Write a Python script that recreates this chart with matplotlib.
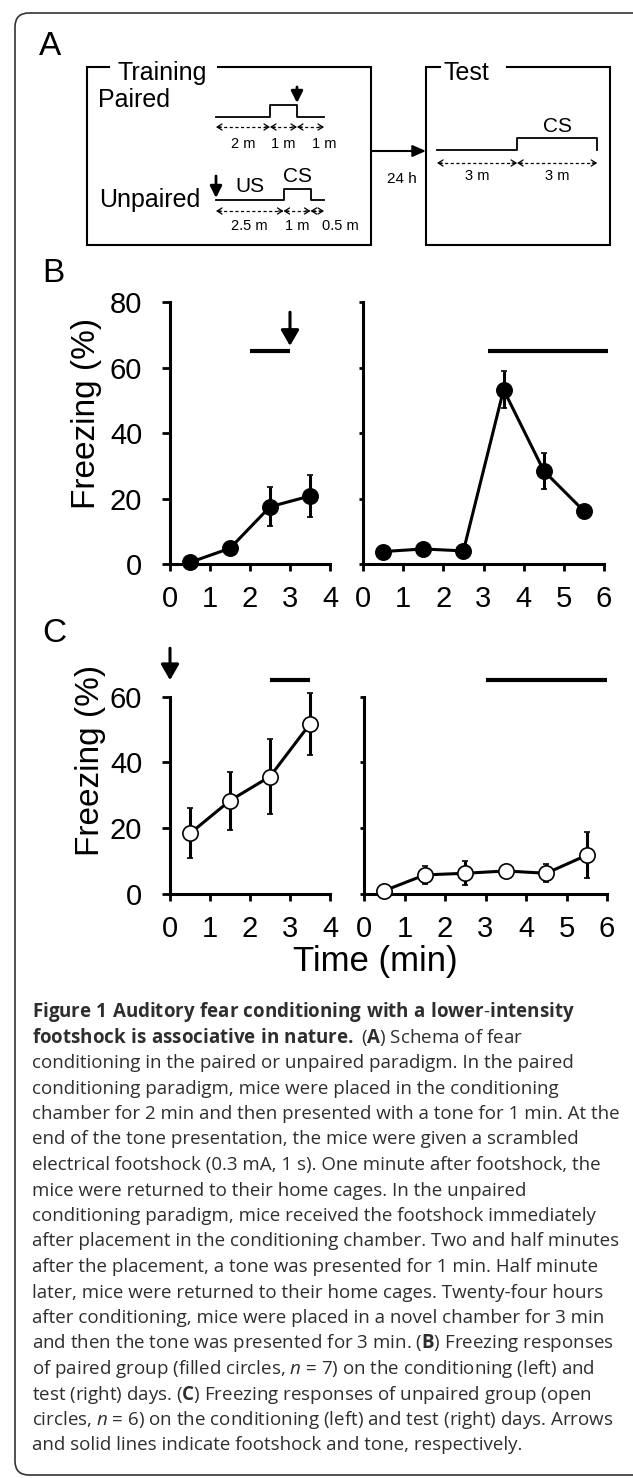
import numpy as np
import matplotlib
matplotlib.use("Agg")
import matplotlib.pyplot as plt
from matplotlib.patches import FancyBboxPatch

ARIAL = ['Liberation Sans', 'DejaVu Sans']
NARROW = ['Liberation Sans Narrow', 'Liberation Sans', 'DejaVu Sans']
CAPFONT = ['Open Sans', 'DejaVu Sans']

plt.rcParams['font.family'] = NARROW
plt.rcParams['mathtext.fontset'] = 'custom'
plt.rcParams['mathtext.rm'] = 'Open Sans'
plt.rcParams['mathtext.bf'] = 'Open Sans:bold'
plt.rcParams['mathtext.it'] = 'Open Sans:italic'

W, H, DPI = 633, 1478, 100

# ---- panel A: schedules (minutes) ----
paired_segments = [2, 1, 1]
paired_labels = ['2 m', '1 m', '1 m']
unpaired_segments = [2.5, 1, 0.5]
unpaired_labels = ['2.5 m', '1 m', '0.5 m']
test_segments = [3, 3]
test_labels = ['3 m', '3 m']

# ---- panel B: paired group ----
b_cond_time = [0.5, 1.5, 2.5, 3.5]
b_cond_freeze = [0.5, 4.8, 17.5, 20.8]
b_cond_err = [0.6, 1.2, 5.9, 6.3]
b_test_time = [0.5, 1.5, 2.5, 3.5, 4.5, 5.5]
b_test_freeze = [3.8, 4.6, 4.0, 53.3, 28.5, 16.2]
b_test_err = [0.8, 0.8, 1.0, 5.6, 5.5, 1.5]
b_cond_tone = [2, 3]
b_test_tone = [3.1, 6.1]
b_cond_shock = 3

# ---- panel C: unpaired group ----
c_cond_time = [0.5, 1.5, 2.5, 3.5]
c_cond_freeze = [18.4, 28.4, 35.7, 51.7]
c_cond_err = [7.6, 8.8, 11.3, 9.5]
c_test_time = [0.5, 1.5, 2.5, 3.5, 4.5, 5.5]
c_test_freeze = [1.0, 5.8, 6.3, 7.0, 6.3, 11.8]
c_test_err = [0.5, 2.8, 3.6, 1.0, 2.7, 6.9]
c_cond_tone = [2.5, 3.5]
c_test_tone = [3, 6]
c_cond_shock = 0

caption_lines = [
    r"$\mathbf{Figure\ 1\ Auditory\ fear\ conditioning\ with\ a\ lower}$-$\mathbf{intensity}$",
    r"$\mathbf{footshock\ is\ associative\ in\ nature.}$ ($\mathbf{A}$) Schema of fear",
    "conditioning in the paired or unpaired paradigm. In the paired",
    "conditioning paradigm, mice were placed in the conditioning",
    "chamber for 2 min and then presented with a tone for 1 min. At the",
    "end of the tone presentation, the mice were given a scrambled",
    "electrical footshock (0.3 mA, 1 s). One minute after footshock, the",
    "mice were returned to their home cages. In the unpaired",
    "conditioning paradigm, mice received the footshock immediately",
    "after placement in the conditioning chamber. Two and half minutes",
    "after the placement, a tone was presented for 1 min. Half minute",
    "later, mice were returned to their home cages. Twenty-four hours",
    "after conditioning, mice were placed in a novel chamber for 3 min",
    r"and then the tone was presented for 3 min. ($\mathbf{B}$) Freezing responses",
    r"of paired group (filled circles, $n$ = 7) on the conditioning (left) and",
    r"test (right) days. ($\mathbf{C}$) Freezing responses of unpaired group (open",
    r"circles, $n$ = 6) on the conditioning (left) and test (right) days. Arrows",
    "and solid lines indicate footshock and tone, respectively.",
]

fig = plt.figure(figsize=(W / DPI, H / DPI), dpi=DPI)
bg = fig.add_axes([0, 0, 1, 1])
bg.set_xlim(0, W)
bg.set_ylim(H, 0)
bg.axis('off')

# outer frame (runs off the right edge)
bg.add_patch(FancyBboxPatch((15, 13), 680, 1462, boxstyle='round,pad=0,rounding_size=14',
                            fc='none', ec='#333333', lw=1.2))

# panel letters
for letter, x, y in [('A', 39, 55), ('B', 42, 282), ('C', 42, 642)]:
    bg.text(x, y, letter, family=ARIAL, fontsize=24, va='baseline')


# ---------------- panel A ----------------
def titled_box(x0, x1, y0, y1, title, tx, g0, g1):
    bg.plot([g0, x0, x0, x1, x1, g1], [y0, y0, y1, y1, y0, y0], color='k', lw=1.5,
            solid_joinstyle='miter')
    bg.text(tx, y0 + 13, title, family=ARIAL, fontsize=18, va='baseline')


def down_arrow(ax, x, tail, tip, lw, hl, hw):
    ax.annotate('', xy=(x, tip), xytext=(x, tail), annotation_clip=False,
                arrowprops=dict(arrowstyle=f'-|>,head_length={hl},head_width={hw}',
                                lw=lw, color='k', shrinkA=0, shrinkB=0))


def schedule(x0, yb, yh, segs, high, yd, labels, ly, shifts, scale):
    edges = x0 + scale * np.concatenate([[0], np.cumsum(segs)])
    xs, ys = [edges[0]], [yb]
    for i in range(len(segs)):
        lvl = yh if i == high else yb
        xs += [edges[i], edges[i + 1]]
        ys += [lvl, lvl]
    xs.append(edges[-1])
    ys.append(yb)
    bg.plot(xs, ys, color='k', lw=1.3)
    for i in range(len(segs)):
        a, b = edges[i], edges[i + 1]
        bg.plot([a + 2, b - 2], [yd, yd], color='k', lw=0.9, ls=(0, (2.5, 2)))
        for tip, tail in ((a, a + 5), (b, b - 5)):
            bg.annotate('', xy=(tip, yd), xytext=(tail, yd),
                        arrowprops=dict(arrowstyle='->,head_length=0.35,head_width=0.22',
                                        lw=0.9, color='k', shrinkA=0, shrinkB=0))
        bg.text((a + b) / 2 + shifts[i], ly, labels[i], family=ARIAL, fontsize=10.5,
                ha='center', va='baseline')
    return edges


titled_box(87, 371, 67, 245, 'Training', 117, 109, 218)
titled_box(426, 610, 67, 245, 'Test', 444, 440, 507)

bg.text(98, 107, 'Paired', family=ARIAL, fontsize=18, va='baseline')
bg.text(99, 207, 'Unpaired', family=ARIAL, fontsize=18, va='baseline')

pe = schedule(216, 117, 105, paired_segments, 1, 127, paired_labels, 148, [0, 0, 14], 27)
down_arrow(bg, pe[2], 87, 103, 2, 0.7, 0.35)

ue = schedule(216, 200, 189, unpaired_segments, 1, 211, unpaired_labels, 230, [0, 0, 23], 27)
down_arrow(bg, ue[0], 176, 198, 2, 0.7, 0.35)
bg.text(250, 192, 'US', family=ARIAL, fontsize=15, ha='center', va='baseline')
bg.text((ue[1] + ue[2]) / 2, 182, 'CS', family=ARIAL, fontsize=15, ha='center', va='baseline')

te = schedule(437, 150, 138, test_segments, 1, 163, test_labels, 180, [0, 0], 26.7)
bg.text((te[1] + te[2]) / 2, 132, 'CS', family=ARIAL, fontsize=15, ha='center', va='baseline')

bg.annotate('', xy=(426, 151), xytext=(371, 151),
            arrowprops=dict(arrowstyle='-|>,head_length=0.8,head_width=0.35', lw=1.5,
                            color='k', shrinkA=0, shrinkB=0))
bg.text(402, 183, '24 h', family=ARIAL, fontsize=11, ha='center', va='baseline')


# ---------------- panels B and C ----------------
def panel_axes(x0, x1, y_zero, ppu, xmax, ytop, right):
    ymax = 80
    ax = fig.add_axes([x0 / W, 1 - y_zero / H, (x1 - x0) / W, ppu * ymax / H])
    ax.set_xlim(0, xmax)
    ax.set_ylim(0, ymax)
    ax.patch.set_visible(False)
    ax.spines['top'].set_visible(False)
    ax.spines['right'].set_visible(False)
    for s in ('left', 'bottom'):
        ax.spines[s].set_linewidth(2.2)
    ax.spines['left'].set_bounds(0, ytop)
    ax.set_xticks(range(xmax + 1))
    ax.set_yticks(range(0, ytop + 1, 20))
    ax.tick_params(axis='x', direction='out', length=5, width=2, pad=10, labelsize=21)
    if right:
        ax.tick_params(axis='y', direction='out', length=3, width=2, labelleft=False)
    else:
        ax.tick_params(axis='y', direction='out', length=6, width=2, pad=14, labelsize=21)
    return ax


def series(ax, x, y, err, filled):
    cont = ax.errorbar(x, y, yerr=err, fmt='-o', color='k', lw=2.2, elinewidth=2.2,
                       capsize=2.5, capthick=2.2, ms=11, mfc='k' if filled else 'white',
                       mec='k', mew=1.2, zorder=3)
    arts = [cont.lines[0], *cont.lines[1], *cont.lines[2]]
    for a in arts:
        a.set_clip_on(False)


def tone(ax, span):
    ax.plot(span, [65, 65], color='k', lw=3, solid_capstyle='butt', clip_on=False)


axB1 = panel_axes(170, 330, 564, 3.27, 4, 80, False)
axB2 = panel_axes(363, 604, 564, 3.27, 6, 80, True)
series(axB1, b_cond_time, b_cond_freeze, b_cond_err, True)
series(axB2, b_test_time, b_test_freeze, b_test_err, True)
tone(axB1, b_cond_tone)
tone(axB2, b_test_tone)
down_arrow(axB1, b_cond_shock, 77, 66.7, 2.2, 0.95, 0.55)

axC1 = panel_axes(170, 330, 894, 3.29, 4, 60, False)
axC2 = panel_axes(364, 607, 894, 3.29, 6, 60, True)
series(axC1, c_cond_time, c_cond_freeze, c_cond_err, False)
series(axC2, c_test_time, c_test_freeze, c_test_err, False)
tone(axC1, c_cond_tone)
tone(axC2, c_test_tone)
down_arrow(axC1, c_cond_shock, 74.7, 65, 2.2, 0.95, 0.55)

bg.text(86, 413, 'Freezing (%)', rotation=90, ha='center', va='center', fontsize=24)
bg.text(90, 760, 'Freezing (%)', rotation=90, ha='center', va='center', fontsize=24)
bg.text(375, 962, 'Time (min)', ha='center', va='center', fontsize=25)

# ---------------- caption ----------------
probe = bg.text(0, 0, caption_lines[4], family=CAPFONT, fontsize=10)
fig.canvas.draw()
cap_size = 10 * 590 / probe.get_window_extent().width
probe.remove()

for i, line in enumerate(caption_lines):
    bg.text(32, 1017 + i * 25.5, line, family=CAPFONT, fontsize=cap_size,
            color='#2e2e2e', va='baseline')

fig.savefig('out.png', dpi=DPI)
